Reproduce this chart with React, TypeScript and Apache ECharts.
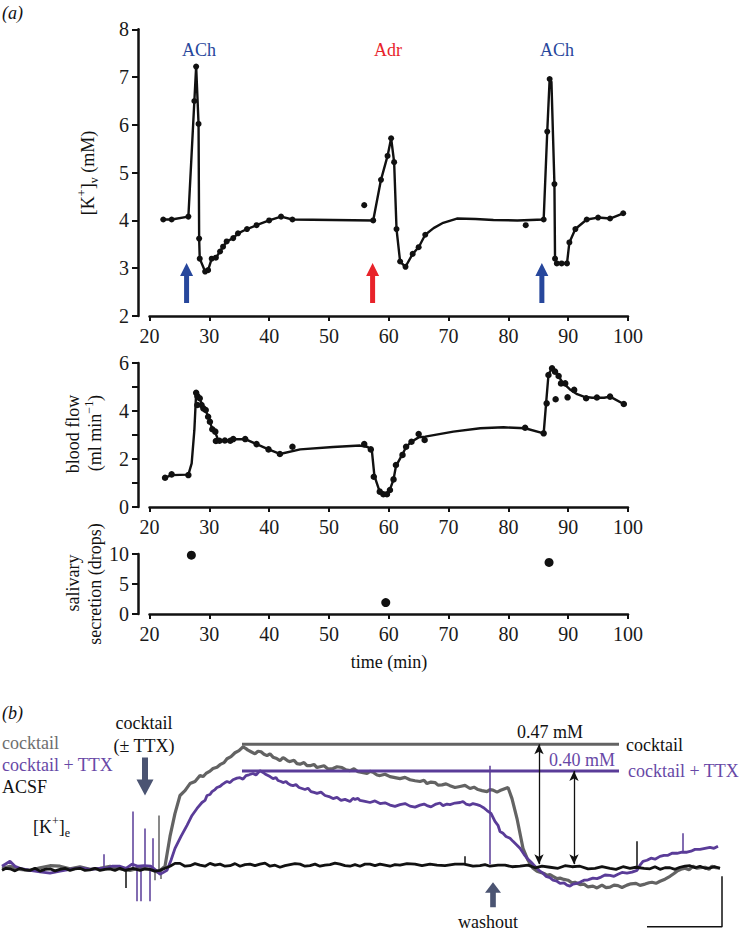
import React, { useEffect, useRef } from 'react';
import * as echarts from 'echarts';

// ---------- panel (a) data ----------
// [K+]v (mM) vs time (min): fitted curve and measured points
const kCurve: number[][] = [
  [22.3, 4.02], [23.7, 4.02], [26.5, 4.08], [27.5, 6.5], [27.8, 7.22], [28.2, 6.02], [28.3, 3.62], [28.4, 3.2],
  [29.3, 2.93], [29.8, 2.96], [30.4, 3.2], [31.1, 3.22], [31.8, 3.35], [32.3, 3.45], [32.9, 3.56], [34.0, 3.63],
  [34.8, 3.73], [36.3, 3.82], [37.9, 3.9], [40.0, 4.0], [42.0, 4.08], [43.9, 4.02], [57.4, 4.0], [58.7, 4.85],
  [59.8, 5.35], [60.4, 5.72], [60.9, 5.22], [61.3, 3.82], [61.9, 3.14], [62.8, 3.03], [64.0, 3.3], [65.0, 3.44],
  [66.1, 3.7], [67.5, 3.84], [69.1, 3.95], [71.4, 4.04], [74.5, 4.03], [77.5, 4.01], [81.5, 4.0], [85.9, 4.02],
  [86.5, 5.86], [86.9, 6.96], [87.2, 6.9], [87.7, 4.76], [87.8, 3.2], [88.1, 3.1], [88.9, 3.1], [89.8, 3.1],
  [90.2, 3.54], [91.2, 3.82], [93.1, 4.02], [95.0, 4.06], [97.0, 4.04], [99.2, 4.15],
];
const kDots: number[][] = [
  [22.3, 4.02], [23.7, 4.02], [26.5, 4.08], [27.5, 6.5], [27.8, 7.22], [28.2, 6.02], [28.3, 3.62], [28.4, 3.2],
  [29.3, 2.93], [29.8, 2.96], [30.4, 3.2], [31.1, 3.22], [31.8, 3.35], [32.3, 3.45], [32.9, 3.56], [34.0, 3.63],
  [34.8, 3.73], [36.3, 3.82], [37.9, 3.9], [40.0, 4.0], [42.0, 4.08], [43.9, 4.02], [55.9, 4.32], [57.4, 4.0],
  [58.7, 4.85], [59.8, 5.35], [60.4, 5.72], [60.9, 5.22], [61.3, 3.82], [61.9, 3.14], [62.8, 3.03], [64.0, 3.3],
  [65.0, 3.44], [66.1, 3.7], [82.9, 3.9], [85.9, 4.02], [86.5, 5.86], [86.9, 6.96], [87.7, 4.76], [87.8, 3.2],
  [88.1, 3.1], [88.9, 3.1], [89.8, 3.1], [90.2, 3.54], [91.2, 3.82], [93.1, 4.02], [95.0, 4.06], [97.0, 4.04],
  [99.2, 4.15],
];

// blood flow (ml min-1)
const flowCurve: number[][] = [
  [22.6, 1.22], [23.7, 1.33], [26.5, 1.35], [27.05, 1.82], [27.5, 3.2], [27.8, 4.76], [28.1, 4.6], [28.5, 4.45],
  [28.9, 4.2], [29.4, 4.04], [29.8, 3.76], [30.1, 3.55], [30.5, 3.24], [31.0, 3.1], [31.4, 2.85], [31.7, 2.78],
  [32.6, 2.77], [33.5, 2.78], [34.0, 2.82], [36.0, 2.83], [37.9, 2.62], [39.9, 2.4], [41.8, 2.21], [45.2, 2.4],
  [50.7, 2.5], [55.2, 2.56], [56.5, 2.5], [57.2, 2.3], [57.6, 1.3], [58.4, 0.7], [59.1, 0.53], [59.7, 0.53],
  [60.2, 0.72], [60.8, 1.15], [61.2, 1.7], [62.3, 2.2], [62.9, 2.5], [63.8, 2.72], [65.0, 2.9], [66.1, 2.93],
  [70.8, 3.14], [75.3, 3.28], [79.2, 3.32], [82.8, 3.28], [85.9, 3.07], [86.3, 4.3], [86.7, 5.5], [87.3, 5.8],
  [87.8, 5.65], [88.4, 5.45], [89.0, 5.2], [90.3, 4.9], [91.5, 4.7], [92.6, 4.6], [94.0, 4.55], [96.0, 4.55],
  [97.0, 4.6], [99.2, 4.3],
];
const flowDots: number[][] = [
  [22.6, 1.22], [23.7, 1.36], [26.5, 1.33], [27.8, 4.76], [28.0, 4.62], [28.4, 4.53], [28.0, 4.25], [28.7, 4.25],
  [29.0, 4.11], [29.4, 4.04], [29.8, 3.76], [30.1, 3.55], [30.5, 3.24], [31.0, 3.14], [31.1, 2.75], [31.7, 2.76],
  [32.6, 2.77], [33.5, 2.76], [34.0, 2.83], [36.0, 2.83], [37.9, 2.62], [39.9, 2.4], [41.8, 2.21], [43.9, 2.51],
  [55.9, 2.62], [57.0, 2.4], [57.5, 1.26], [58.5, 0.64], [59.1, 0.53], [59.7, 0.53], [60.2, 0.71], [60.8, 1.15],
  [61.2, 1.75], [62.3, 2.17], [62.9, 2.51], [63.8, 2.72], [65.0, 3.04], [66.0, 2.79], [82.8, 3.3], [85.9, 3.07],
  [86.4, 4.32], [86.7, 5.5], [87.3, 5.78], [87.8, 5.64], [88.4, 5.46], [88.8, 5.15], [89.5, 5.15], [91.0, 4.88],
  [93.0, 4.53], [94.8, 4.56], [97.0, 4.6], [99.3, 4.29], [87.9, 4.49], [89.9, 4.57],
];

// salivary secretion (drops)
const salivaDots: number[][] = [[27.0, 9.8], [59.5, 1.9], [86.8, 8.6]];

// drug applications
const drugTimes = [26.2, 57.3, 85.6];
const drugNames = ['ACh', 'Adr', 'ACh'];
const timeTicks = { min: 20, max: 100, step: 10 };

// ---------- panel (b) data: Δ[K+]e (mM) vs time (min) ----------
const cocktailTrace: number[][] = [
  [0.2, -0.004], [1, 0.004], [2, -0.008], [3, -0.012], [4, -0.002], [5, 0.006], [6, 0.004], [7, -0.006], [8, 0.002],
  [9, -0.008], [10, -0.004], [11, 0.004], [12, -0.006], [13, -0.012], [14, -0.002], [15, -0.008], [15.8, -0.019],
  [16.5, 0.004], [17, 0.119], [17.5, 0.208], [18, 0.277], [18.5, 0.296], [19, 0.323],
  [19.5, 0.331], [20, 0.354], [20.3, 0.35], [20.6, 0.362], [21.0, 0.371], [21.3, 0.381], [21.7, 0.386], [22, 0.396],
  [22.4, 0.404], [22.7, 0.419], [23.1, 0.427], [23.5, 0.442], [23.9, 0.45], [24.3, 0.465],
  [24.6, 0.458], [24.8, 0.452], [25.1, 0.446], [25.5, 0.438], [25.8, 0.448], [26.1, 0.446], [26.4, 0.436], [26.7, 0.431],
  [27.0, 0.438], [27.3, 0.425], [27.6, 0.421], [28, 0.412], [28.3, 0.423], [28.5, 0.419], [28.8, 0.41], [29, 0.408],
  [29.4, 0.413], [29.7, 0.4], [30, 0.398], [30.4, 0.404], [30.7, 0.392], [31, 0.392], [31.4, 0.397], [31.7, 0.385],
  [32, 0.388], [32.4, 0.392], [32.8, 0.379], [33.3, 0.381], [33.7, 0.388], [34.2, 0.385], [34.6, 0.376], [35, 0.373],
  [35.4, 0.38], [35.8, 0.369], [36.2, 0.366], [36.7, 0.362], [37.0, 0.37], [37.3, 0.367], [37.7, 0.356], [38, 0.354],
  [38.5, 0.359], [39, 0.35], [39.5, 0.346], [40, 0.342], [40.5, 0.347], [41, 0.338], [41.5, 0.334], [42, 0.331],
  [42.4, 0.336], [42.7, 0.323], [43.1, 0.329], [43.5, 0.327], [43.8, 0.317], [44.2, 0.318], [44.6, 0.322], [45, 0.315],
  [45.5, 0.308], [46, 0.312], [46.5, 0.316], [47, 0.304], [47.4, 0.309], [47.8, 0.3], [48.2, 0.296], [48.7, 0.292],
  [49.0, 0.3], [49.3, 0.298], [49.7, 0.29], [50, 0.296], [50.4, 0.302], [50.8, 0.308],
  [51.2, 0.265], [51.7, 0.188], [52.3, 0.073], [52.8, 0.027], [53.3, -0.004], [53.7, -0.015], [54, -0.019],
  [54.4, -0.024], [54.7, -0.031], [55.0, -0.028], [55.3, -0.035], [55.7, -0.044], [56, -0.042], [56.4, -0.047],
  [56.8, -0.05], [57.2, -0.06], [57.5, -0.058], [58.0, -0.067], [58.4, -0.065], [58.8, -0.076], [59.3, -0.073],
  [59.7, -0.08], [60.2, -0.069], [60.6, -0.079], [61, -0.077], [61.4, -0.069], [61.8, -0.071], [62.2, -0.078],
  [62.7, -0.069], [63.1, -0.064], [63.6, -0.062], [64.0, -0.07], [64.5, -0.065], [64.9, -0.06], [65.2, -0.058],
  [65.6, -0.062], [66, -0.054], [66.5, -0.046], [67, -0.035], [67.4, -0.024], [67.7, -0.015], [68.1, -0.008],
  [68.5, -0.004], [68.9, -0.01], [69.3, 0.004], [69.7, -0.004], [70, -0.002], [70.5, 0], [70.9, -0.008],
  [71.2, 0.004], [71.6, -0.002], [72, -0.004],
];
const ttxTrace: number[][] = [
  [0.2, 0.004], [1, 0.023], [1.5, 0.004], [2, -0.004], [3, -0.012], [4, -0.018], [5, -0.023], [6, -0.015], [7, -0.008],
  [8, -0.002], [9, -0.008], [10, -0.004], [10.6, -0.004], [11.2, 0.004], [12, 0.004], [12.6, -0.004],
  [13.2, 0.012], [13.8, 0.004], [14.4, 0.006], [15.1, 0.004], [15.6, -0.012], [16, -0.027],
  [16.7, -0.012], [17.1, 0.027], [17.5, 0.073], [18.1, 0.119], [18.7, 0.162], [19.2, 0.2], [19.7, 0.227], [20.2, 0.25],
  [20.5, 0.258], [20.7, 0.277], [21.0, 0.281], [21.2, 0.292], [21.5, 0.3], [21.7, 0.308], [22.0, 0.312], [22.2, 0.319],
  [22.5, 0.327], [22.7, 0.331], [23.0, 0.327], [23.3, 0.338], [23.7, 0.344], [24, 0.346], [24.3, 0.34], [24.6, 0.354],
  [24.9, 0.357], [25.3, 0.362], [25.6, 0.356], [26, 0.373], [26.3, 0.366], [26.6, 0.358], [27, 0.35], [27.3, 0.342],
  [27.6, 0.346], [27.8, 0.335], [28.1, 0.331], [28.3, 0.327], [28.6, 0.331], [28.8, 0.323], [29.1, 0.317],
  [29.3, 0.315], [29.6, 0.319], [29.9, 0.308], [30.2, 0.304], [30.5, 0.3], [30.8, 0.305], [31.1, 0.292],
  [31.4, 0.289], [31.7, 0.285], [32.1, 0.29], [32.5, 0.277], [32.9, 0.273], [33.3, 0.265], [33.7, 0.27],
  [34.1, 0.258], [34.5, 0.262], [35, 0.254], [35.3, 0.266], [35.5, 0.262], [35.8, 0.266], [36, 0.258], [36.5, 0.254],
  [37, 0.25], [37.5, 0.256], [38, 0.246], [38.5, 0.249], [39, 0.24], [39.5, 0.235], [40, 0.242], [40.5, 0.246],
  [41, 0.236], [41.5, 0.232], [42, 0.24], [42.4, 0.244], [42.7, 0.238], [43.1, 0.233], [43.6, 0.244], [44, 0.248],
  [44.3, 0.238], [44.7, 0.244], [45, 0.242], [45.5, 0.248], [46, 0.25], [46.3, 0.254], [46.6, 0.244], [47, 0.24],
  [47.3, 0.246], [47.7, 0.242], [48.0, 0.238], [48.4, 0.229], [48.7, 0.219],
  [49.1, 0.208], [49.5, 0.177], [49.8, 0.162], [50, 0.138], [50.3, 0.131], [50.6, 0.119],
  [51.0, 0.112], [51.3, 0.1], [51.7, 0.085], [52, 0.073], [52.4, 0.05], [52.7, 0.035], [53.1, 0.02], [53.4, 0.008],
  [54, -0.015], [54.3, -0.023], [54.6, -0.035], [55, -0.04], [55.3, -0.05], [55.7, -0.054], [56, -0.062],
  [56.4, -0.06], [56.7, -0.069], [57, -0.073], [57.3, -0.065], [57.7, -0.062], [58, -0.058], [58.4, -0.05],
  [58.7, -0.05], [59, -0.046], [59.3, -0.042], [59.7, -0.044], [60.1, -0.038], [60.5, -0.03], [61, -0.031],
  [61.4, -0.035], [61.8, -0.027], [62.2, -0.02], [62.7, -0.023], [63.2, -0.019], [63.7, -0.012], [64, 0.008],
  [64.3, 0.023], [64.7, 0.027], [65.1, 0.035], [65.5, 0.031], [66, 0.042], [66.4, 0.046], [66.8, 0.046],
  [67.2, 0.054], [67.7, 0.054], [68.2, 0.058], [68.7, 0.058], [69.1, 0.062],
  [69.5, 0.069], [70, 0.069], [70.5, 0.073], [71, 0.077], [71.4, 0.073], [71.8, 0.081],
];
const acsfTrace: number[][] = [
  [0.2, -0.012], [0.6, -0.004], [1, -0.006], [1.5, -0.014], [2, -0.004], [2.5, -0.01], [3, -0.012], [3.5, -0.004],
  [4, -0.015], [4.5, -0.008], [5, -0.006], [5.5, -0.014], [6, -0.008], [6.5, -0.004], [7, -0.012], [7.5, -0.006],
  [8, -0.004], [8.5, -0.012], [9, -0.01], [9.5, -0.004], [10, -0.012], [10.5, -0.008], [11, -0.006], [11.5, -0.012],
  [12, -0.004], [12.5, -0.012], [13.3, -0.004], [14, -0.012], [14.5, -0.006],
  [15, -0.008], [15.5, -0.015], [16, -0.012], [16.5, -0.004], [17, 0.004], [17.5, 0.015], [18, 0.015], [18.5, 0.004],
  [19, 0.006], [19.5, 0.014], [20, 0.008], [20.5, 0.004], [21, 0.015], [21.5, 0.008], [22, 0.012], [22.5, 0.004],
  [23, 0.006], [23.5, 0.014], [24, 0.004], [24.5, 0.01], [25, 0.012], [25.5, 0.006], [26, 0.012], [26.5, 0.016],
  [27, 0.004], [27.5, 0.008], [28, 0], [28.5, 0.006], [29, 0.01], [29.5, 0.014], [30, 0.012], [30.5, 0.004],
  [31, 0.006], [31.5, 0.012], [32, 0.004], [32.5, 0.008], [33, 0.01], [33.5, 0.016], [34, 0.012], [34.5, 0.006],
  [35, 0.004], [35.5, 0.01], [36, 0.004], [36.5, 0.012], [37, 0.012], [37.5, 0.006], [38, 0.012], [38.5, 0.008],
  [39, 0.004], [39.5, 0.01], [40, 0.008], [40.7, 0.014], [41.5, 0.012], [42.2, 0.006], [43, 0.012], [43.7, 0.008],
  [44.5, 0.006], [45.5, 0.012], [46.4, 0.012], [47.3, 0.004], [48, 0.006],
  [48.5, 0.01], [49, 0.004], [49.8, 0.008], [50.5, 0.008], [51.2, 0.002], [52, 0.004], [52.8, 0.008], [53.5, -0.002],
  [54.2, 0.004], [55, 0], [55.8, -0.004], [56.5, 0.006], [57.2, 0.002], [58, 0.004], [58.8, -0.006], [59.5, -0.004],
  [60.2, 0.002], [61, -0.004], [61.6, -0.008], [62.3, 0.002], [63, -0.004], [63.6, 0],
  [64.4, -0.004], [65, -0.006], [65.5, 0.002], [66, -0.008], [66.5, -0.002], [67, -0.002], [67.5, -0.008], [68, 0],
  [68.5, 0.004], [69, 0.006], [69.5, -0.002], [70, 0.004], [70.5, -0.004], [71, -0.002], [71.5, 0.002], [72, -0.004],
];
// brief electrical artefacts (start and end value of each spike; '-' separates spikes)
const cocktailSpikes: (number | string)[][] = [
  [15.9, -0.01], [15.9, 0.2], [15.95, '-'], [16.1, -0.01], [16.1, -0.045], [16.15, '-'], [15.5, -0.01], [15.5, -0.05],
];
const ttxSpikes: (number | string)[][] = [
  [10.4, 0.0], [10.4, 0.05], [10.45, '-'], [13.3, 0.0], [13.3, 0.215], [13.35, '-'], [13.7, 0.0], [13.7, -0.131],
  [13.75, '-'], [14.1, 0.0], [14.1, -0.131], [14.15, '-'], [14.5, 0.0], [14.5, 0.15], [14.55, '-'], [15.0, 0.0],
  [15.0, -0.131], [15.05, '-'], [15.3, 0.0], [15.3, 0.112], [15.35, '-'], [49.0, 0.012], [49.0, 0.392], [49.05, '-'],
  [68.3, 0.058], [68.3, 0.131],
];
const acsfSpikes: (number | string)[][] = [
  [12.6, -0.01], [12.6, -0.08], [12.65, '-'], [46.5, 0.01], [46.5, 0.042], [46.55, '-'], [63.7, 0.0], [63.7, 0.1],
];
const plateauSpan = [24.2, 61.9];
const plateauCocktail = 0.475;
const plateauTtx = 0.372;
const deltaArrowTimes = [53.9, 57.4];
const deltaArrowBase = 0.012;
const cocktailOnset = 14.5;
const washoutTime = 49.3;
const scaleBar: number[][] = [[64.7, -0.23], [72.2, -0.23], [72.2, -0.035]];

// ---------- styles ----------
const SERIF = 'Liberation Serif';
const BLUE = '#27479c';
const RED = '#e8232a';
const GRAY = '#636363';
const PURPLE = '#5a3c98';
const PURPLE_TXT = '#6748a6';
const SLATE = '#4b5472';
const drugColors = [BLUE, RED, BLUE];

const UP_ARROW = 'path://M6.5,0 L13,13 L9,13 L9,40 L4,40 L4,13 L0,13 Z';
const FAT_ARROW = 'path://M8.5,0 L17,16 L11.5,16 L11.5,38 L5.5,38 L5.5,16 L0,16 Z';

const rich = (size: number, color: string) => ({
  n: { fontFamily: SERIF, fontSize: size, fill: color, color, lineHeight: size + 6 },
  sup: { fontFamily: SERIF, fontSize: Math.round(size * 0.65), fill: color, color, verticalAlign: 'top', lineHeight: Math.round(size * 0.7) },
  sub: { fontFamily: SERIF, fontSize: Math.round(size * 0.65), fill: color, color, verticalAlign: 'bottom', lineHeight: Math.round(size * 0.7) },
});

function txt(x: number, y: number, text: string, o: any = {}) {
  return {
    type: 'text',
    x,
    y,
    rotation: o.rotation || 0,
    silent: true,
    style: {
      text,
      fontFamily: SERIF,
      fontSize: o.size || 18,
      fontStyle: o.italic ? 'italic' : 'normal',
      fill: o.color || '#111',
      align: o.align || 'left',
      verticalAlign: 'middle',
      rich: o.rich,
    },
  };
}

function timeXAxis(gridIndex: number) {
  return {
    type: 'value',
    gridIndex,
    min: timeTicks.min,
    max: timeTicks.max,
    interval: timeTicks.step,
    axisLine: { show: true, onZero: false, lineStyle: { color: '#111', width: 2.5 } },
    axisTick: { show: true, length: 5, lineStyle: { color: '#111', width: 2 } },
    axisLabel: { fontFamily: SERIF, fontSize: 20, color: '#1a1a1a', margin: 10 },
    splitLine: { show: false },
  };
}

function leftYAxis(gridIndex: number, min: number, max: number, interval: number, fmt?: (v: number) => string) {
  return {
    type: 'value',
    gridIndex,
    min,
    max,
    interval,
    offset: 11.5,
    axisLine: { show: true, onZero: false, lineStyle: { color: '#111', width: 2.5 } },
    axisTick: { show: true, length: 6, lineStyle: { color: '#111', width: 2 } },
    axisLabel: { fontFamily: SERIF, fontSize: 20, color: '#1a1a1a', margin: 9, formatter: fmt },
    splitLine: { show: false },
  };
}

function traceSeries(data: any[], color: string, width: number, extra: any = {}) {
  return {
    type: 'line', xAxisIndex: 3, yAxisIndex: 3, data, showSymbol: false, symbol: 'none', silent: true,
    connectNulls: false, lineStyle: { color, width }, ...extra,
  };
}

export default function App() {
  const ref = useRef<HTMLDivElement>(null);
  useEffect(() => {
    document.body.style.margin = '0';
    if (!ref.current) return;
    const chart = echarts.init(ref.current, undefined, { renderer: 'svg' });

    const dot = { color: '#111', opacity: 1 };
    const option: any = {
      animation: false,
      backgroundColor: '#ffffff',
      textStyle: { fontFamily: SERIF },
      grid: [
        { left: 149.5, top: 29.3, width: 478.5, height: 286.7 },
        { left: 149.5, top: 363, width: 478.5, height: 144 },
        { left: 149.5, top: 554, width: 478.5, height: 60 },
        { left: 0, top: 673, width: 741, height: 260 },
      ],
      xAxis: [
        timeXAxis(0),
        timeXAxis(1),
        timeXAxis(2),
        { type: 'value', gridIndex: 3, min: 0, max: 74.1, show: false },
      ],
      yAxis: [
        leftYAxis(0, 2, 8, 1),
        leftYAxis(1, 0, 6, 1, (v: number) => (v % 2 === 0 ? String(v) : '')),
        leftYAxis(2, 0, 10, 5),
        { type: 'value', gridIndex: 3, min: -0.25, max: 0.75, show: false },
      ],
      series: [
        {
          type: 'line', xAxisIndex: 0, yAxisIndex: 0, data: kCurve, showSymbol: false, symbol: 'none',
          lineStyle: { color: '#111', width: 2.4 }, silent: true,
        },
        {
          type: 'scatter', xAxisIndex: 0, yAxisIndex: 0, data: kDots, symbolSize: 6,
          itemStyle: dot, silent: true,
        },
        {
          type: 'scatter', xAxisIndex: 0, yAxisIndex: 0, silent: true,
          symbol: UP_ARROW, symbolSize: [13, 40],
          data: drugTimes.map((t, i) => ({ value: [t, 2.69], itemStyle: { color: drugColors[i], opacity: 1 } })),
        },
        {
          type: 'line', xAxisIndex: 1, yAxisIndex: 1, data: flowCurve, showSymbol: false, symbol: 'none',
          lineStyle: { color: '#111', width: 2.4 }, silent: true,
        },
        {
          type: 'scatter', xAxisIndex: 1, yAxisIndex: 1, data: flowDots, symbolSize: 6.5,
          itemStyle: dot, silent: true,
        },
        {
          type: 'scatter', xAxisIndex: 2, yAxisIndex: 2, data: salivaDots, symbolSize: 9,
          itemStyle: dot, silent: true, clip: false,
        },
        traceSeries(cocktailTrace, GRAY, 3.2),
        traceSeries(cocktailSpikes, GRAY, 1.5),
        traceSeries(ttxTrace, PURPLE, 2.8),
        traceSeries(ttxSpikes, PURPLE, 1.5),
        traceSeries(acsfTrace, '#111', 2.8, {
          markLine: {
            silent: true,
            symbol: ['arrow', 'arrow'],
            symbolSize: [7, 10],
            label: { show: false },
            lineStyle: { color: '#111', width: 1.3, type: 'solid' },
            data: [
              [{ coord: [deltaArrowTimes[0], plateauCocktail] }, { coord: [deltaArrowTimes[0], deltaArrowBase] }],
              [{ coord: [deltaArrowTimes[1], plateauTtx] }, { coord: [deltaArrowTimes[1], deltaArrowBase] }],
            ],
          },
        }),
        traceSeries(acsfSpikes, '#111', 1.5),
        traceSeries([[plateauSpan[0], plateauCocktail], [plateauSpan[1], plateauCocktail]], GRAY, 3),
        traceSeries([[plateauSpan[0], plateauTtx], [plateauSpan[1], plateauTtx]], PURPLE, 3),
        traceSeries(scaleBar, '#111', 1.5),
        {
          type: 'scatter', xAxisIndex: 3, yAxisIndex: 3, silent: true, symbol: FAT_ARROW,
          data: [
            { value: [cocktailOnset, 0.35], symbolSize: [17, 38], symbolRotate: 180, itemStyle: { color: SLATE, opacity: 1 } },
            { value: [washoutTime, -0.106], symbolSize: [16, 25], itemStyle: { color: SLATE, opacity: 1 } },
          ],
        },
      ],
      graphic: [
        txt(2, 13, '(a)', { italic: true }),
        ...drugNames.map((n, i) => txt([199, 388, 557][i], 50, n, { color: drugColors[i], align: 'center' })),
        txt(88, 173, '{n|[K}{sup|+}{n|]}{sub|v}{n| (mM)}', { rotation: Math.PI / 2, align: 'center', rich: rich(18, '#111') }),
        txt(73, 434, 'blood flow', { rotation: Math.PI / 2, align: 'center' }),
        txt(95, 433, '{n|(ml min}{sup|−1}{n|)}', { rotation: Math.PI / 2, align: 'center', rich: rich(18, '#111') }),
        txt(73, 583, 'salivary', { rotation: Math.PI / 2, align: 'center' }),
        txt(95, 584, 'secretion (drops)', { rotation: Math.PI / 2, align: 'center' }),
        txt(389, 662, 'time (min)', { align: 'center' }),
        txt(2, 713, '(b)', { italic: true }),
        txt(2, 743, 'cocktail', { color: '#6e6e6e' }),
        txt(2, 765, 'cocktail + TTX', { color: PURPLE_TXT }),
        txt(2, 787, 'ACSF'),
        txt(33, 827, '{n|[K}{sup|+}{n|]}{sub|e}', { rich: rich(18, '#111') }),
        txt(144, 723, 'cocktail', { align: 'center' }),
        txt(144, 746, '(± TTX)', { align: 'center' }),
        txt(550, 732, '0.47 mM', { align: 'center' }),
        txt(582, 760, '0.40 mM', { align: 'center', color: PURPLE_TXT }),
        txt(626, 745, 'cocktail'),
        txt(628, 771, 'cocktail + TTX', { color: PURPLE_TXT }),
        txt(488, 922, 'washout', { align: 'center' }),
      ],
    };
    chart.setOption(option);
    return () => chart.dispose();
  }, []);
  return <div ref={ref} style={{ width: 741, height: 932, position: 'absolute', left: 0, top: 0 }} />;
}
